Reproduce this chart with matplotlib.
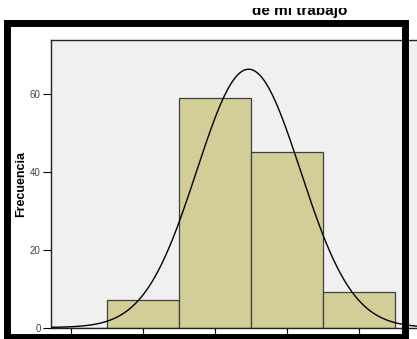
import numpy as np
import matplotlib.pyplot as plt
from matplotlib.patches import Rectangle

# Likert answers and how many people gave each one
valores = [1, 2, 3, 4, 5]
frecuencias = [0, 7, 59, 45, 9]
yticks = [0, 20, 40, 60]

W, H = 417, 339
fig = plt.figure(figsize=(W / 100, H / 100), dpi=100)
plt.rcParams['font.family'] = ['Liberation Sans', 'DejaVu Sans']

# axes runs past the right edge of the figure
ax = fig.add_axes([50.5 / W, (H - 327.5) / H, 380.5 / W, 287.5 / H])
ax.set_facecolor('#f0f0f0')

ax.bar(valores, frecuencias, width=1.0, color='#d3ce98', edgecolor='#404040',
       linewidth=0.9, zorder=2)

# normal curve fitted to the same counts
x = np.array(valores, dtype=float)
n = np.array(frecuencias, dtype=float)
total = n.sum()
media = (x * n).sum() / total
sd = np.sqrt(((x - media) ** 2 * n).sum() / (total - 1))
xs = np.linspace(0.7, 6.0, 400)
ys = total * 1.0 / (sd * np.sqrt(2 * np.pi)) * np.exp(-0.5 * ((xs - media) / sd) ** 2)
ax.plot(xs, ys, color='black', linewidth=1.0, zorder=3)

ax.set_xlim(0.715, 6.0)
ax.set_ylim(0, 73.9)
ax.set_yticks(yticks)
ax.set_xticks(valores)
ax.set_xticklabels([])
ax.tick_params(axis='y', length=6, width=0.8, labelsize=7, labelcolor='#444444', pad=1)
ax.tick_params(axis='x', length=6, width=0.8)
for s in ax.spines.values():
    s.set_linewidth(1.0)
    s.set_color('#222222')
ax.set_ylabel('Frecuencia', fontsize=9, fontweight='bold', labelpad=2)

fig.text(300 / W, 1 - 15 / H, 'de mi trabajo', ha='center', va='baseline',
         fontsize=11, fontweight='bold')
# top of the title lines is cut off
fig.patches.append(Rectangle((0, 1 - 8 / H), 1, 8 / H, transform=fig.transFigure,
                             facecolor='white', edgecolor='none', zorder=10))

# thick black frame drawn over everything
fig.patches.append(Rectangle((6.5 / W, (H - 337) / H), 398 / W, 314 / H,
                             transform=fig.transFigure, fill=False,
                             edgecolor='black', linewidth=5.0, zorder=20))

fig.savefig('out.png', dpi=100)
